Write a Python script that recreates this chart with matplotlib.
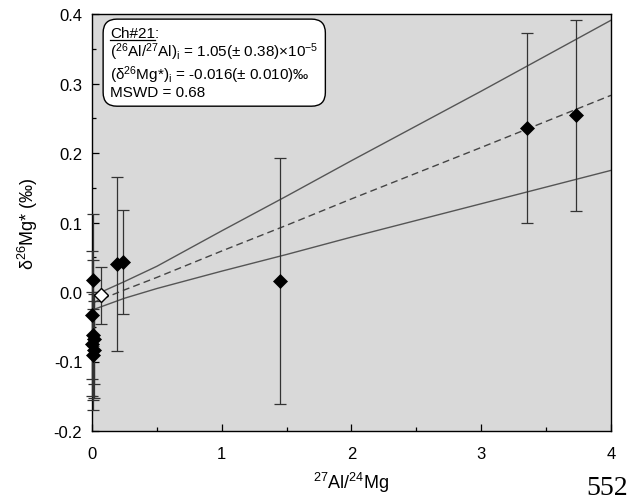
import matplotlib
matplotlib.use("Agg")
import matplotlib.pyplot as plt
from matplotlib.ticker import MultipleLocator
from matplotlib.lines import Line2D

plt.rcParams['font.family'] = ['Liberation Sans', 'DejaVu Sans']
plt.rcParams['mathtext.fontset'] = 'custom'
plt.rcParams['mathtext.rm'] = 'Liberation Sans'
plt.rcParams['mathtext.it'] = 'Liberation Sans:italic'
plt.rcParams['mathtext.bf'] = 'Liberation Sans:bold'

# ---- data ----
x_filled = [0.010, 0.000, 0.005, 0.012, 0.002, 0.015, 0.004, 0.19, 0.24, 1.45, 3.35, 3.73]
y_filled = [0.017, -0.033, -0.062, -0.068, -0.075, -0.083, -0.090, 0.040, 0.043, 0.016, 0.236, 0.254]
e_filled = [0.095, 0.092, 0.108, 0.065, 0.075, 0.070, 0.065, 0.125, 0.075, 0.177, 0.136, 0.137]

x_open = [0.07]
y_open = [-0.005]
e_open = [0.041]

fit_x = [0.0, 0.25, 0.5, 1.0, 1.5, 2.0, 3.0, 4.0]
fit_mid = [-0.016, 0.003, 0.021, 0.059, 0.096, 0.134, 0.208, 0.283]
fit_upper = [-0.006, 0.015, 0.037, 0.088, 0.138, 0.189, 0.289, 0.391]
fit_lower = [-0.026, -0.009, 0.005, 0.030, 0.054, 0.079, 0.127, 0.175]

x_ticks = [0, 1, 2, 3, 4]
y_ticks = [-0.2, -0.1, 0.0, 0.1, 0.2, 0.3, 0.4]

fig = plt.figure(figsize=(6.35, 5.02), dpi=100)
ax = fig.add_axes([92/635, 1-432/502, (611-92)/635, (432-15)/502])
ax.set_facecolor('#d9d9d9')

ax.plot(fit_x, fit_upper, color='#555555', lw=1.0)
ax.plot(fit_x, fit_lower, color='#555555', lw=1.0)
ax.plot(fit_x, fit_mid, color='#444444', lw=1.0, ls=(0, (5, 3)))

for xs, ys, es in ((x_filled, y_filled, e_filled), (x_open, y_open, e_open)):
    eb = ax.errorbar(xs, ys, yerr=es, fmt='none', ecolor='#333333',
                     elinewidth=0.9, capsize=4, capthick=0.9, zorder=3)
    for art in eb.get_children():
        art.set_clip_on(False)
ax.plot(x_filled, y_filled, 'D', color='black', ms=7, mew=0.5, zorder=4,
        clip_on=False)
ax.plot(x_open, y_open, 'D', mfc='white', mec='black', ms=7, mew=1.0, zorder=5,
        clip_on=False)

ax.set_xlim(0, 4)
ax.set_ylim(-0.2, 0.4)
ax.set_xticks(x_ticks)
ax.set_yticks(y_ticks)
ax.set_yticklabels(['-0.2', '-0.1', '0.0', '0.1', '0.2', '0.3', '0.4'])
ax.xaxis.set_minor_locator(MultipleLocator(0.5))
ax.yaxis.set_minor_locator(MultipleLocator(0.05))
ax.tick_params(which='both', direction='in', top=False, right=False,
               labelsize=12, pad=7)
ax.tick_params(axis='x', which='major', pad=11)
ax.tick_params(which='major', length=5, width=0.9)
ax.tick_params(which='minor', length=3, width=0.9)
for s in ax.spines.values():
    s.set_linewidth(1.0)

ax.set_xlabel(r'$^{27}$Al/$^{24}$Mg', fontsize=13, labelpad=6)
ax.set_ylabel(r'δ$^{26}$Mg* (‰)', fontsize=13, labelpad=10)

txt = ("Ch#21:\n"
       r"($^{26}$Al/$^{27}$Al)$_{\rm i}$ = 1.05(± 0.38)×10$^{-5}$" "\n"
       r"(δ$^{26}$Mg*)$_{\rm i}$ = -0.016(± 0.010)‰" "\n"
       "MSWD = 0.68")
t = fig.text(110/635, 1-27/502, txt, ha='left', va='top', fontsize=11,
             linespacing=1.05, zorder=5,
             bbox=dict(boxstyle='round,pad=0.45,rounding_size=0.9', fc='white',
                       ec='black', lw=1.0))

fig.canvas.draw()
r = fig.canvas.get_renderer()
tmp = fig.text(110/635, 1-27/502, "Ch#21", ha='left', va='top', fontsize=11)
bb = tmp.get_window_extent(renderer=r)
tmp.remove()
uy = (1 - 41/502)
fig.add_artist(Line2D([bb.x0/635, bb.x1/635], [uy, uy], color='black', lw=0.9,
                      transform=fig.transFigure, zorder=10))

fig.text(586/635, 1-501/502, "552", ha='left', va='bottom', fontsize=20,
         family='Liberation Serif')

fig.savefig('out.png', dpi=100)
